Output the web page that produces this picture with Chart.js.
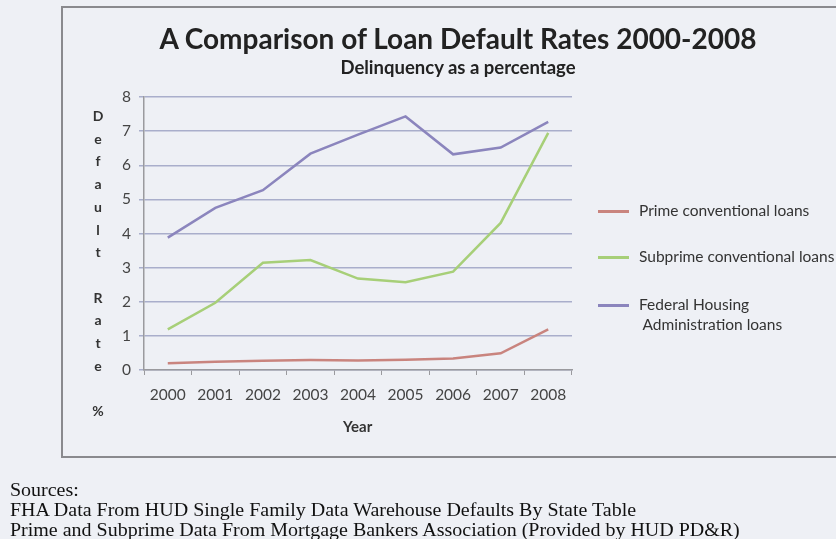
<!DOCTYPE html>
<html>
<head>
<meta charset="utf-8">
<script src="https://cdn.jsdelivr.net/npm/chart.js@4/dist/chart.umd.min.js"></script>
<style>
  body { margin: 0; background: #eef0f5; width: 836px; height: 539px; overflow: hidden; position: relative; font-family: Lato, "Noto Sans", sans-serif; color: #333; }
  #frame { position: absolute; left: 61px; top: 6px; width: 800px; height: 448px; border: 2px solid #8a8a8e; border-right: none; }
  #chart { position: absolute; left: 0; top: 0; }
  .t { position: absolute; white-space: nowrap; }
  #title { left: 0; width: 916px; top: 21px; text-align: center; font-size: 28px; font-weight: bold; color: #222; }
  #subtitle { left: 0; width: 916px; top: 56px; text-align: center; font-size: 18.5px; font-weight: bold; color: #222; }
  #ytitle { left: 90px; top: 105px; width: 16px; text-align: center; font-size: 14px; font-weight: bold; line-height: 22.7px; }
  #xtitle { left: 343px; top: 417px; font-size: 15px; font-weight: bold; }
  .leg { position: absolute; left: 598px; width: 31px; height: 3px; }
  .legt { left: 639px; font-size: 15.5px; line-height: 20px; }
  #sources { left: 10px; top: 480px; font-family: "Liberation Serif", serif; font-size: 18px; line-height: 20px; color: #111; transform: scaleX(1.11); transform-origin: 0 0; }
</style>
</head>
<body>
<div id="frame"></div>
<canvas id="chart" width="836" height="539"></canvas>
<div class="t" id="title">A Comparison of Loan Default Rates 2000-2008</div>
<div class="t" id="subtitle">Delinquency as a percentage</div>
<div class="t" id="ytitle">D<br>e<br>f<br>a<br>u<br>l<br>t<br>&nbsp;<br>R<br>a<br>t<br>e<br>&nbsp;<br>%</div>
<div class="t" id="xtitle">Year</div>
<div class="leg" style="top:210px;background:#c9847e"></div>
<div class="t legt" style="top:200px">Prime conventional loans</div>
<div class="leg" style="top:256px;background:#a7cf78"></div>
<div class="t legt" style="top:246px">Subprime conventional loans</div>
<div class="leg" style="top:304px;background:#8b85bd"></div>
<div class="t legt" style="top:294px">Federal Housing<br>&nbsp;Administration loans</div>
<div class="t" id="sources">Sources:<br>FHA Data From HUD Single Family Data Warehouse Defaults By State Table<br>Prime and Subprime Data From Mortgage Bankers Association (Provided by HUD PD&amp;R)</div>
<script>
const years = ["2000", "2001", "2002", "2003", "2004", "2005", "2006", "2007", "2008"];
const prime = [0.20, 0.24, 0.27, 0.29, 0.28, 0.30, 0.34, 0.49, 1.19];
const subprime = [1.19, 1.97, 3.14, 3.22, 2.68, 2.57, 2.88, 4.31, 6.95];
const fha = [3.88, 4.75, 5.27, 6.34, 6.90, 7.43, 6.32, 6.52, 7.27];

const tickFont = { family: "Lato, 'Noto Sans', sans-serif", size: 15.5 };

new Chart(document.getElementById("chart"), {
  type: "line",
  data: {
    labels: years,
    datasets: [
      { label: "Prime conventional loans", data: prime, borderColor: "#c9847e" },
      { label: "Subprime conventional loans", data: subprime, borderColor: "#a7cf78" },
      { label: "Federal Housing Administration loans", data: fha, borderColor: "#8b85bd" },
    ],
  },
  options: {
    responsive: false,
    animation: false,
    layout: { padding: { left: 100, top: 97, right: 264, bottom: 129 } },
    elements: {
      line: { borderWidth: 2.5, tension: 0, fill: false },
      point: { radius: 0 },
    },
    plugins: { legend: { display: false }, tooltip: { enabled: false } },
    scales: {
      x: {
        offset: true,
        afterFit: (scale) => { scale.height = 40; },
        grid: { offset: true, drawOnChartArea: false, drawTicks: true, tickLength: 5, color: "#9a9a9e" },
        border: { color: "#9a9a9e", width: 1.5 },
        ticks: { color: "#444", font: tickFont, padding: 11, maxRotation: 0 },
      },
      y: {
        min: 0,
        max: 8,
        afterFit: (scale) => { scale.width = 44; },
        grid: { color: "#a9aecb", lineWidth: 1.5, tickLength: 5 },
        border: { color: "#9a9a9e", width: 1.5 },
        ticks: { stepSize: 1, color: "#444", font: tickFont, padding: 8 },
      },
    },
  },
});
</script>
</body>
</html>
